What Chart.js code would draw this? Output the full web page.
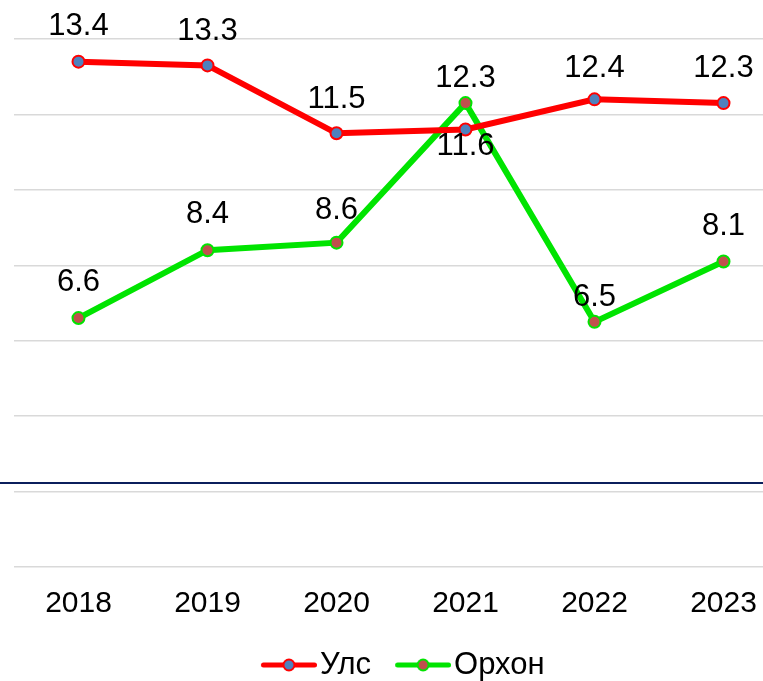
<!DOCTYPE html>
<html>
<head>
<meta charset="utf-8">
<script src="https://cdn.jsdelivr.net/npm/chart.js@4.4.0/dist/chart.umd.min.js"></script>
<style>
  html, body { margin: 0; padding: 0; overflow: hidden; background: #fff; }
  #wrap { position: relative; width: 763px; height: 681px; overflow: hidden; }
  #chart { position: absolute; left: 0; top: 0; }
  #rule { position: absolute; left: 0; top: 482px; width: 763px; height: 2px; background: #0b1f5c; }
</style>
</head>
<body>
<div id="wrap">
  <canvas id="chart" width="800" height="681"></canvas>
  <div id="rule"></div>
</div>
<script>
const years = ["2018", "2019", "2020", "2021", "2022", "2023"]
const ulsValues = [13.4, 13.3, 11.5, 11.6, 12.4, 12.3]
const orkhonValues = [6.6, 8.4, 8.6, 12.3, 6.5, 8.1]
const seriesNames = ["Улс", "Орхон"]
const yMin = 0, yMax = 14, yStep = 2

Chart.defaults.font.family = '"Liberation Sans", Arial, sans-serif'
Chart.defaults.color = "#000"

// legend swatch: line with a dot in the middle, drawn to a small canvas
// (left part is transparent so the gap to the previous item is right)
function legendMarker(lineColor, dotColor) {
  const c = document.createElement("canvas")
  c.width = 72
  c.height = 16
  const g = c.getContext("2d")
  g.strokeStyle = lineColor
  g.lineWidth = 5
  g.lineCap = "round"
  g.beginPath()
  g.moveTo(18.5, 8)
  g.lineTo(69.5, 8)
  g.stroke()
  g.beginPath()
  g.arc(44, 8, 5.5, 0, Math.PI * 2)
  g.fillStyle = dotColor
  g.fill()
  g.lineWidth = 2
  g.stroke()
  return c
}
const markers = [legendMarker("#ff0000", "#4f81bd"), legendMarker("#00e400", "#c0504d")]

// value labels above (or below) each point
const valueLabels = {
  id: "valueLabels",
  afterDatasetsDraw(chart) {
    const ctx = chart.ctx
    ctx.save()
    ctx.font = '31px "Liberation Sans", Arial, sans-serif'
    ctx.fillStyle = "#000"
    ctx.textAlign = "center"
    ctx.textBaseline = "middle"
    chart.data.datasets.forEach((ds, i) => {
      chart.getDatasetMeta(i).data.forEach((pt, j) => {
        ctx.fillText(ds.data[j].toFixed(1), pt.x, pt.y + ds.labelShift[j])
      })
    })
    ctx.restore()
  }
}

const chart = new Chart("chart", {
  type: "line",
  data: {
    labels: years,
    datasets: [{
        label: seriesNames[0],
        data: ulsValues,
        borderColor: "#ff0000",
        borderWidth: 6,
        pointRadius: 6,
        pointBorderWidth: 2,
        pointBackgroundColor: "#4f81bd",
        pointBorderColor: "#ff0000",
        labelShift: [-35, -34, -34, 17, -31, -35],
      }, {
        label: seriesNames[1],
        data: orkhonValues,
        borderColor: "#00e400",
        borderWidth: 6,
        pointRadius: 6,
        pointBorderWidth: 2,
        pointBackgroundColor: "#c0504d",
        pointBorderColor: "#00e400",
        labelShift: [-36, -36, -32, -25, -24, -35],
      }
    ]
  },
  options: {
    responsive: false,
    animation: false,
    layout: {padding: {top: 39, left: 14, right: 12, bottom: -9.5}},
    plugins: {
      tooltip: {enabled: false},
      legend: {
        position: "bottom",
        labels: {
          usePointStyle: true,
          pointStyleWidth: 47,
          padding: 20.5,
          font: {size: 31},
          generateLabels: c => Chart.defaults.plugins.legend.labels.generateLabels(c)
            .map((item, i) => ({...item, pointStyle: markers[i]}))
        }
      }
    },
    scales: {
      x: {
        offset: true,
        grid: {display: false, drawTicks: false},
        border: {display: false},
        ticks: {font: {size: 30}, padding: 19, color: "#000"},
        afterFit: scale => { scale.height = 62 }
      },
      y: {
        min: yMin,
        max: yMax,
        ticks: {display: false, stepSize: yStep},
        grid: {color: "#d9d9d9", lineWidth: 1.5, drawTicks: false},
        border: {display: false}
      }
    }
  },
  plugins: [valueLabels]
})
</script>
</body>
</html>
